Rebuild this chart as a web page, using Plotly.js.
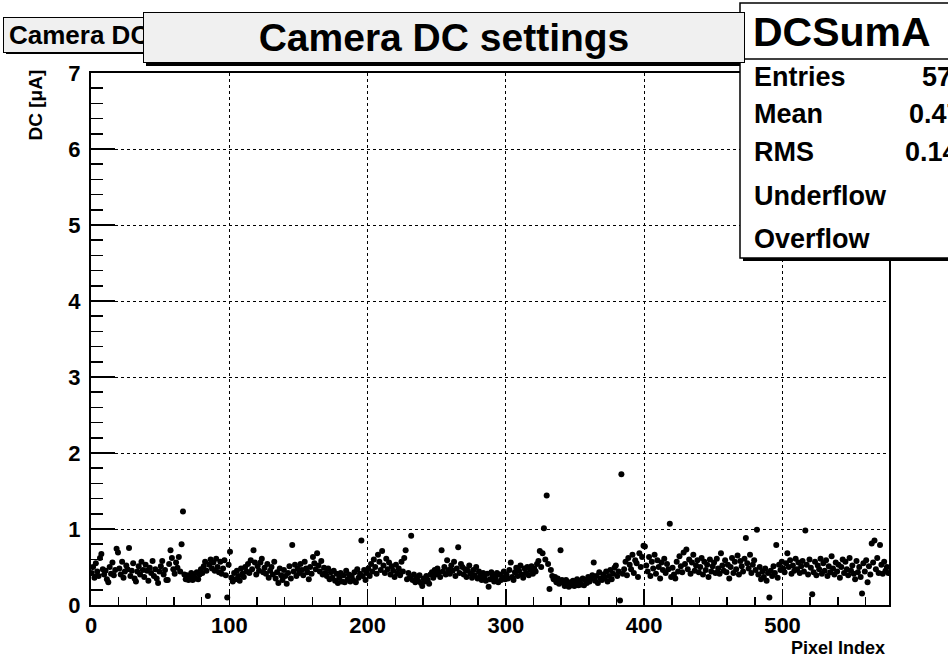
<!DOCTYPE html>
<html><head><meta charset="utf-8">
<script src="https://cdn.plot.ly/plotly-3.0.1.min.js"></script>
<style>html,body{margin:0;padding:0;background:#fff;} #chart{width:948px;height:660px;}</style>
</head><body><div id="chart"></div>
<script>
const chartTitle = "Camera DC settings";
const histName = "DCSumA";
const xTitle = "Pixel Index";
const yTitle = "DC [μA]";
const statLabels = ["Entries", "Mean", "RMS", "Underflow", "Overflow"];
const statValues = ["577", "0.4706", "0.1432", "0", "0"];
const xTickVals = [0, 100, 200, 300, 400, 500];
const yTickVals = [0, 1, 2, 3, 4, 5, 6, 7];

const dcValues = [
0.42,0.50,0.36,0.55,0.44,0.38,0.62,0.67,0.47,0.40,
0.45,0.34,0.30,0.50,0.41,0.56,0.39,0.46,0.74,0.69,
0.48,0.40,0.57,0.36,0.44,0.52,0.47,0.75,0.38,0.45,
0.55,0.35,0.31,0.44,0.51,0.40,0.57,0.46,0.37,0.53,
0.45,0.32,0.49,0.42,0.58,0.38,0.47,0.35,0.29,0.44,
0.51,0.58,0.40,0.46,0.33,0.33,0.54,0.72,0.62,0.47,
0.41,0.56,0.49,0.63,0.44,0.80,1.23,0.40,0.34,0.39,
0.33,0.37,0.42,0.33,0.38,0.35,0.43,0.34,0.40,0.47,
0.42,0.51,0.57,0.45,0.12,0.53,0.60,0.48,0.56,0.45,
0.61,0.50,0.43,0.57,0.41,0.48,0.59,0.39,0.10,0.53,
0.70,0.36,0.31,0.42,0.34,0.45,0.38,0.32,0.48,0.41,
0.37,0.50,0.44,0.54,0.42,0.59,0.47,0.72,0.56,0.40,
0.51,0.45,0.56,0.61,0.43,0.49,0.41,0.54,0.36,0.45,
0.50,0.40,0.57,0.35,0.43,0.29,0.48,0.39,0.33,0.46,
0.38,0.28,0.42,0.51,0.35,0.79,0.44,0.53,0.38,0.48,
0.42,0.54,0.46,0.39,0.57,0.48,0.43,0.34,0.50,0.41,
0.63,0.55,0.47,0.68,0.52,0.44,0.58,0.40,0.49,0.42,
0.38,0.48,0.34,0.43,0.36,0.45,0.32,0.41,0.29,0.36,
0.42,0.31,0.39,0.30,0.45,0.34,0.40,0.31,0.38,0.33,
0.43,0.30,0.47,0.36,0.41,0.85,0.38,0.46,0.33,0.42,
0.48,0.38,0.54,0.44,0.60,0.50,0.41,0.66,0.57,0.46,
0.71,0.52,0.42,0.61,0.47,0.56,0.40,0.51,0.45,0.37,
0.53,0.42,0.48,0.39,0.57,0.44,0.62,0.72,0.34,0.42,
0.36,0.91,0.33,0.40,0.30,0.36,0.32,0.39,0.29,0.25,
0.35,0.31,0.38,0.33,0.28,0.40,0.43,0.36,0.46,0.40,
0.48,0.43,0.37,0.72,0.44,0.50,0.40,0.59,0.46,0.41,
0.52,0.45,0.57,0.38,0.48,0.76,0.42,0.54,0.50,0.40,
0.47,0.37,0.45,0.52,0.41,0.36,0.46,0.39,0.50,0.35,
0.44,0.38,0.33,0.42,0.36,0.32,0.41,0.24,0.34,0.43,
0.38,0.31,0.36,0.42,0.30,0.40,0.33,0.37,0.44,0.34,
0.40,0.35,0.46,0.56,0.37,0.33,0.43,0.49,0.38,0.45,
0.52,0.40,0.36,0.48,0.42,0.50,0.39,0.46,0.51,0.41,
0.48,0.44,0.54,0.58,0.71,0.50,0.68,1.01,0.60,1.44,
0.54,0.21,0.46,0.38,0.34,0.37,0.30,0.35,0.28,0.72,
0.33,0.30,0.25,0.33,0.27,0.24,0.30,0.26,0.32,0.25,
0.29,0.34,0.26,0.31,0.27,0.35,0.26,0.33,0.29,0.37,
0.31,0.35,0.39,0.56,0.32,0.38,0.29,0.43,0.35,0.33,
0.40,0.36,0.44,0.31,0.38,0.46,0.34,0.41,0.49,0.52,
0.38,0.44,0.06,1.72,0.41,0.47,0.57,0.39,0.62,0.53,
0.47,0.66,0.42,0.59,0.55,0.37,0.68,0.50,0.63,0.78,
0.77,0.52,0.44,0.63,0.38,0.57,0.48,0.66,0.41,0.59,
0.50,0.35,0.56,0.46,0.61,0.42,0.54,0.47,1.07,0.37,
0.49,0.40,0.35,0.57,0.44,0.64,0.51,0.43,0.69,0.54,
0.73,0.47,0.60,0.41,0.56,0.66,0.45,0.52,0.59,0.43,
0.50,0.62,0.40,0.57,0.46,0.53,0.37,0.60,0.44,0.51,
0.56,0.42,0.61,0.48,0.41,0.68,0.52,0.45,0.59,0.43,
0.53,0.35,0.50,0.62,0.42,0.57,0.47,0.65,0.40,0.58,
0.51,0.44,0.61,0.88,0.55,0.48,0.66,0.42,0.53,0.59,
0.46,0.99,0.40,0.50,0.34,0.44,0.37,0.48,0.32,0.42,
0.10,0.45,0.38,0.51,0.42,0.79,0.36,0.53,0.46,0.57,
0.48,0.43,0.55,0.68,0.50,0.59,0.41,0.52,0.45,0.61,
0.47,0.56,0.42,0.51,0.58,0.44,0.98,0.53,0.40,0.60,
0.49,0.14,0.43,0.57,0.39,0.52,0.47,0.61,0.41,0.55,
0.45,0.59,0.38,0.51,0.43,0.64,0.48,0.40,0.56,0.44,
0.53,0.36,0.50,0.60,0.42,0.57,0.47,0.39,0.62,0.45,
0.52,0.41,0.34,0.58,0.43,0.50,0.37,0.15,0.55,0.44,
0.59,0.30,0.51,0.40,0.81,0.56,0.85,0.47,0.62,0.42,
0.79,0.53,0.41,0.57,0.45,0.50,0.42
];
const pixelIndex = dcValues.map((v, i) => i + 0.5);

const FONT = "Liberation Sans, Arial, Helvetica, sans-serif";
const W = 948, H = 660, L = 91, R = 889, T = 73, B = 605;
const px = x => (x - L) / (R - L);
const py = y => (B - y) / (B - T);

const trace = {
  x: pixelIndex, y: dcValues, type: "scatter", mode: "markers",
  marker: {color: "#000", size: 6, line: {width: 0}},
  cliponaxis: true, hoverinfo: "skip"
};

const shapes = [];
function rect(x0, y0, x1, y1, fill, lw) {
  shapes.push({type: "rect", xref: "paper", yref: "paper", layer: "above",
    x0: px(x0), x1: px(x1), y0: py(y0), y1: py(y1),
    fillcolor: fill, line: {color: "#000", width: lw}});
}
rect(6, 20, 200, 54, "#000", 0);
rect(146, 15, 748, 66, "#000", 0);
rect(743, 6, 1000, 261, "#000", 0);
rect(740, 3, 1000, 258, "#fff", 1.5);
shapes.push({type: "line", xref: "paper", yref: "paper", layer: "above",
  x0: px(740), x1: px(1000), y0: py(59), y1: py(59), line: {color: "#000", width: 1.5}});

const annotations = [];
annotations.push({xref: "paper", yref: "paper", x: px(3), y: py(17), xanchor: "left", yanchor: "top",
  text: chartTitle, showarrow: false, align: "left", width: 200, height: 24, borderpad: 5,
  bgcolor: "#f0f0f0", bordercolor: "#000", borderwidth: 1,
  font: {family: FONT, size: 26, weight: "bold", color: "#000"}});
annotations.push({xref: "paper", yref: "paper", x: px(143), y: py(12), xanchor: "left", yanchor: "top",
  text: chartTitle, showarrow: false, align: "center", width: 600, height: 49, borderpad: 0,
  bgcolor: "#f0f0f0", bordercolor: "#000", borderwidth: 1,
  font: {family: FONT, size: 39, weight: "bold", color: "#000"}});
annotations.push({xref: "paper", yref: "paper", x: px(842), y: py(32), xanchor: "center", yanchor: "middle",
  text: histName, showarrow: false, font: {family: FONT, size: 41, weight: "bold", color: "#000"}});
const rowY = [77, 114, 152, 196, 239];
const valX = [920, 907, 903, 955, 955];
statLabels.forEach((lab, i) => {
  annotations.push({xref: "paper", yref: "paper", x: px(752), y: py(rowY[i]), xanchor: "left", yanchor: "middle",
    text: lab, showarrow: false, font: {family: FONT, size: 27, weight: "bold", color: "#000"}});
  annotations.push({xref: "paper", yref: "paper", x: px(valX[i]), y: py(rowY[i]), xanchor: "left", yanchor: "middle",
    text: statValues[i], showarrow: false, font: {family: FONT, size: 27, weight: "bold", color: "#000"}});
});
annotations.push({xref: "paper", yref: "paper", x: px(887), y: py(648), xanchor: "right", yanchor: "middle",
  text: xTitle, showarrow: false, font: {family: FONT, size: 18, weight: "bold", color: "#000"}});
annotations.push({xref: "paper", yref: "paper", x: px(35), y: py(68), xanchor: "center", yanchor: "top",
  text: yTitle, textangle: -90, showarrow: false, font: {family: FONT, size: 19, weight: "bold", color: "#000"}});

const axisCommon = {
  showline: true, mirror: true, linecolor: "#000", linewidth: 2,
  ticks: "inside", tickcolor: "#000", tickwidth: 1.5,
  showgrid: true, gridcolor: "#000", griddash: "dot", gridwidth: 1,
  zeroline: false, fixedrange: true,
  tickfont: {family: FONT, size: 22, weight: "bold", color: "#000"}
};

const layout = {
  width: W, height: H,
  margin: {l: L, r: W - R, t: T, b: H - B, pad: 0},
  paper_bgcolor: "#fff", plot_bgcolor: "#fff", showlegend: false,
  font: {family: FONT, color: "#000"},
  xaxis: Object.assign({}, axisCommon, {range: [0, 577], tickmode: "array", tickvals: xTickVals, ticklen: 16,
    minor: {dtick: 20, tick0: 0, ticks: "inside", ticklen: 8, tickcolor: "#000", tickwidth: 1.5, showgrid: false}}),
  yaxis: Object.assign({}, axisCommon, {range: [0, 7], tickmode: "array", tickvals: yTickVals, ticklen: 24,
    ticklabelstandoff: 4,
    minor: {dtick: 0.2, tick0: 0, ticks: "inside", ticklen: 12, tickcolor: "#000", tickwidth: 1.5, showgrid: false}}),
  shapes: shapes, annotations: annotations
};

Plotly.newPlot("chart", [trace], layout, {staticPlot: true, displayModeBar: false});
</script>
</body></html>
